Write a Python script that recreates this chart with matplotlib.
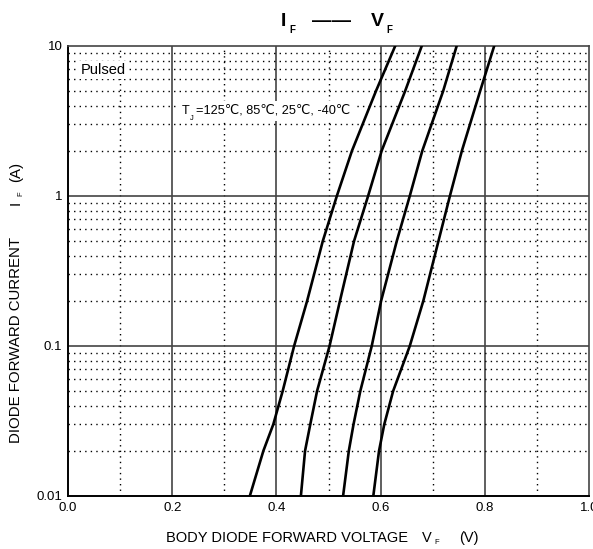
#!/usr/bin/env python3
"""Body diode forward characteristic IF - VF, four junction temperatures."""
import matplotlib
matplotlib.use("Agg")
import matplotlib.pyplot as plt

plt.rcParams["font.family"] = ["Liberation Sans", "DejaVu Sans"]

W, H = 593, 549

# forward current (A) and read-off forward voltage (V) per temperature
current = [0.01, 0.02, 0.03, 0.05, 0.1, 0.2, 0.5, 1, 2, 5, 10]
vf_125 = [0.349, 0.375, 0.394, 0.412, 0.434, 0.459, 0.489, 0.516, 0.545, 0.591, 0.628]
vf_85 = [0.447, 0.455, 0.465, 0.478, 0.502, 0.522, 0.549, 0.576, 0.602, 0.647, 0.679]
vf_25 = [0.528, 0.539, 0.548, 0.561, 0.583, 0.601, 0.631, 0.656, 0.680, 0.720, 0.746]
vf_m40 = [0.586, 0.597, 0.607, 0.624, 0.656, 0.682, 0.711, 0.733, 0.756, 0.791, 0.818]

x_ticks = [0.0, 0.2, 0.4, 0.6, 0.8, 1.0]
x_ticklabels = ["0.0", "0.2", "0.4", "0.6", "0.8", "1.0"]
y_ticks = [0.01, 0.1, 1, 10]
y_ticklabels = ["0.01", "0.1", "1", "10"]


def fx(px):
    return px / W


def fy(py):
    return 1 - py / H


fig = plt.figure(figsize=(W / 100, H / 100), dpi=100)
ax = fig.add_axes([fx(68), fy(496), (589 - 68) / W, (496 - 46) / H])
ax.set_xlim(0, 1.0)
ax.set_ylim(0.01, 10)
ax.set_yscale("log")

# grid: solid majors, dotted minors
for v in [0.2, 0.4, 0.6, 0.8]:
    ax.axvline(v, color="#444444", lw=1.2, zorder=1)
for v in [0.1, 0.3, 0.5, 0.7, 0.9]:
    ax.axvline(v, color="black", lw=1.0, ls=(0, (1, 3)), zorder=1)
for dec in [0.01, 0.1, 1]:
    for m in range(2, 10):
        ax.axhline(dec * m, color="black", lw=1.0, ls=(0, (1, 3)), zorder=1)
for v in [0.1, 1]:
    ax.axhline(v, color="#444444", lw=1.2, zorder=1)

for vf in [vf_125, vf_85, vf_25, vf_m40]:
    ax.plot(vf, current, color="black", lw=1.9, zorder=4, solid_joinstyle="round")

ax.set_xticks(x_ticks)
ax.set_xticklabels(x_ticklabels, fontsize=9.5)
ax.set_yticks(y_ticks)
ax.set_yticklabels(y_ticklabels, fontsize=9.5)
ax.yaxis.set_minor_locator(matplotlib.ticker.NullLocator())
ax.tick_params(length=0, pad=4)
for s in ["left", "bottom"]:
    ax.spines[s].set_color("black")
    ax.spines[s].set_linewidth(1.4)
for s in ["top", "right"]:
    ax.spines[s].set_color("#444444")
    ax.spines[s].set_linewidth(1.2)

ax.text(0.024, 6.9, "Pulsed", fontsize=10.5, ha="left", va="center", zorder=3,
        bbox=dict(facecolor="white", edgecolor="none", pad=1.5))
# T_J annotation, white box masks the grid under it
box = dict(facecolor="white", edgecolor="none", pad=3)
ax.text(0.219, 3.69, "T", fontsize=9.2, ha="left", va="center", zorder=3, bbox=box)
ax.text(0.246, 3.69, "=125\u2103, 85\u2103, 25\u2103, -40\u2103", fontsize=9.2,
        ha="left", va="center", zorder=3, bbox=box)
ax.text(0.234, 3.3, "J", fontsize=5.5, ha="left", va="center", zorder=6)

# title  I_F —— V_F
fig.text(fx(283), fy(22), "I", fontsize=14, fontweight="bold", ha="center", va="center")
fig.text(fx(292), fy(30), "F", fontsize=7, fontweight="bold", ha="center", va="center")
fig.text(fx(332), fy(21), "\u2014\u2014", fontsize=14, fontweight="bold", ha="center", va="center")
fig.text(fx(377), fy(22), "V", fontsize=14, fontweight="bold", ha="center", va="center")
fig.text(fx(389), fy(30), "F", fontsize=7, fontweight="bold", ha="center", va="center")

# x label
fig.text(fx(166), fy(538), "BODY DIODE FORWARD VOLTAGE", fontsize=10.5, ha="left", va="center")
fig.text(fx(427), fy(538), "V", fontsize=10.5, ha="center", va="center")
fig.text(fx(437), fy(543), "F", fontsize=5.5, ha="center", va="center")
fig.text(fx(469), fy(538), "(V)", fontsize=10.5, ha="center", va="center")

# y label
fig.text(fx(16), fy(443), "DIODE FORWARD CURRENT", fontsize=10.8, rotation=90,
         rotation_mode="anchor", ha="left", va="center")
fig.text(fx(16), fy(203), "I", fontsize=10.8, rotation=90, ha="center", va="center")
fig.text(fx(21), fy(194), "F", fontsize=5.5, rotation=90, ha="center", va="center")
fig.text(fx(16), fy(172), "(A)", fontsize=10.8, rotation=90, ha="center", va="center")

fig.savefig("out.png", dpi=100)
